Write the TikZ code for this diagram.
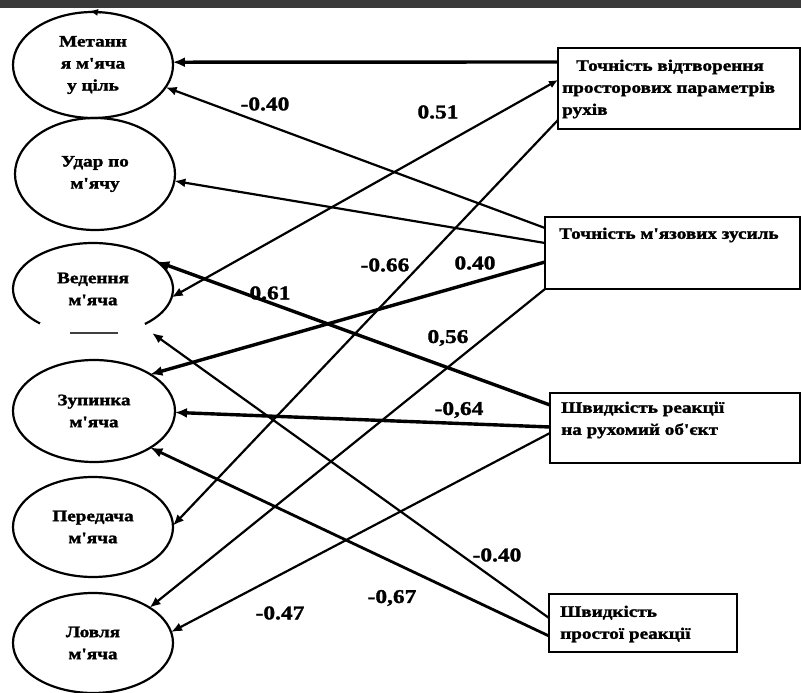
\documentclass[tikz,border=0pt]{standalone}
\usepackage{fontspec}
\newfontfamily\df{Liberation Serif}[FakeStretch=1.2,FakeBold=1.6]
\usetikzlibrary{arrows.meta,shapes.geometric,calc}
\definecolor{band}{RGB}{58,58,58}
\begin{document}
\begin{tikzpicture}[x=1pt,y=-1pt,
  ell/.style={ellipse, draw, line width=2.2pt, inner sep=0pt, outer sep=0pt, minimum width=160pt, align=center, font=\df\bfseries\fontsize{16}{22}\selectfont},
  box/.style={rectangle, draw, line width=1.5pt, inner sep=0pt, outer sep=0pt, anchor=north west},
  btext/.style={anchor=west, align=left, inner sep=0pt, font=\df\bfseries\fontsize{16}{22}\selectfont},
  lab/.style={font=\df\bfseries\fontsize{19.5}{22}\selectfont, inner sep=0pt},
  conn/.style={line width=2.2pt, -{Latex[length=11pt,width=9pt]}},
  heavy/.style={line width=3.4pt, -{Latex[length=12pt,width=10pt]}},
]
\useasboundingbox (0,0) rectangle (801,693);
\fill[band] (0,0) rectangle (801,8);

% ellipses
\node[ell, minimum height=106pt] (e1) at (93,65) {Метанн\\я м'яча\\у ціль};
\node[ell, minimum height=112pt] (e2) at (95,174) {Удар по\\м'ячу};
\node[ell, draw=none, minimum height=92pt] (e3) at (93,289) {Ведення\\м'яча};
\draw[line width=2.2pt] ($(e3.center)+(131.5:80 and 46)$) arc[start angle=131.5, end angle=409.5, x radius=80, y radius=46];
\draw[line width=1.5pt, black!75] (70,333) -- (118,333);
\coordinate (g) at (152,333);
\node[ell, minimum width=162pt, minimum height=102pt] (e4) at (94,411) {Зупинка\\м'яча};
\node[ell, minimum height=100pt] (e5) at (93,527) {Передача\\м'яча};
\node[ell, minimum height=100pt] (e6) at (93,643) {Ловля\\м'яча};

% boxes
\node[box, minimum width=242pt, minimum height=81pt] (bA) at (558,48) {};
\node[box, minimum width=255pt, minimum height=72pt] (bB) at (545,217) {};
\node[box, minimum width=250pt, minimum height=70pt] (bC) at (550,393) {};
\node[box, minimum width=188pt, minimum height=58pt] (bD) at (549,594) {};
\node[btext] (tA) at (562,89) {\hspace*{14pt}Точність відтворення\\просторових параметрів\\рухів};
\node[btext] (tB) at (559,235) {Точність м'язових зусиль};
\node[btext] (tC) at (561,420) {Швидкість реакції\\на рухомий об'єкт};
\node[btext] (tD) at (560,624) {Швидкість\\простої реакції};

% connectors
\draw[heavy] ($(bA.north west)+(0,14)$) -- (e1.2);
\draw[conn] ($(bB.north west)+(0,11)$) -- (e1.-17);
\draw[conn] ($(bB.north west)+(0,26)$) -- (e2.-5);
\draw[conn, {Latex[length=9pt,width=8pt]}-{Latex[length=11pt,width=9pt]}] ($(bA.north west)+(0,32)$) -- (e3.-6);
\draw[conn] ($(bA.north west)+(0,72)$) -- (e5.1);
\draw[heavy] ($(bB.north west)+(0,45)$) -- (e4.33);
\draw[conn] (bB.south west) -- (e6.32);
\draw[heavy] ($(bC.north west)+(0,12)$) -- (e3.23);
\draw[heavy] ($(bC.north west)+(0,34)$) -- (e4.-1);
\draw[conn] ($(bC.north west)+(0,40)$) -- (e6.8);
\draw[conn] ($(bD.north west)+(0,24)$) -- (g);
\draw[heavy, line width=2.8pt] ($(bD.north west)+(0,42)$) -- (e4.-33);
\draw[line width=1pt, -{Latex[length=8pt,width=7pt]}] ($(e1.north)+(8,1)$) -- ($(e1.north)+(-3,-1)$);

% labels
\node[lab] (l1) at (265,104) {-0.40};
\node[lab] (l2) at (438,112) {0.51};
\node[lab] (l3) at (385,265) {-0.66};
\node[lab] (l4) at (475,263) {0.40};
\node[lab] (l5) at (270,293) {0.61};
\node[lab] (l6) at (448,338) {0,56};
\node[lab] (l7) at (459,410) {-0,64};
\node[lab] (l8) at (497,555) {-0.40};
\node[lab] (l9) at (392,598) {-0,67};
\node[lab] (l10) at (280,613) {-0.47};
\end{tikzpicture}
\end{document}
